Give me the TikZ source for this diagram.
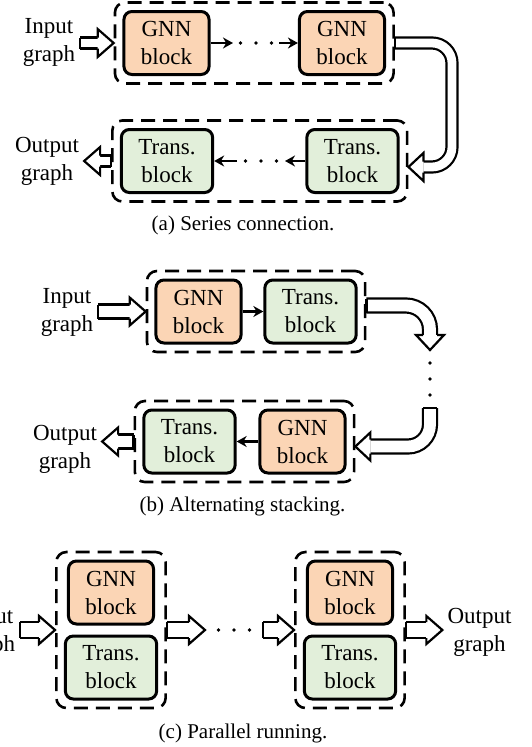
\documentclass[tikz,border=0pt]{standalone}
\usepackage{fontspec}
\setmainfont{Liberation Serif}
\usetikzlibrary{arrows.meta,calc,fit}
\definecolor{gnnorange}{RGB}{251,213,181}
\definecolor{transgreen}{RGB}{226,239,218}

% half width of the open block arrows (set per panel)
\def\shafthalf{6}
% open block arrow: head from back point #1 to tip #2
\newcommand{\hollowhead}[2]{%
  \fill[white] ($(#1)!\shafthalf pt!90:(#2)$) -- ($(#1)!14pt!90:(#2)$) -- (#2)
    -- ($(#1)!14pt!-90:(#2)$) -- ($(#1)!\shafthalf pt!-90:(#2)$) -- cycle;
  \draw[hollowline] ($(#1)!\shafthalf pt!90:(#2)$) -- ($(#1)!14pt!90:(#2)$) -- (#2)
    -- ($(#1)!14pt!-90:(#2)$) -- ($(#1)!\shafthalf pt!-90:(#2)$);}
% closed tail of an open block arrow at #1, heading to #2
\newcommand{\hollowtail}[2]{%
  \draw[hollowline, line cap=square] ($(#1)!\shafthalf pt!90:(#2)$) -- ($(#1)!\shafthalf pt!-90:(#2)$);}
% straight open block arrow from #1 to #2
\newcommand{\hollowarrow}[2]{%
  \coordinate (htip) at (#2);
  \coordinate (htail) at (#1);
  \coordinate (hback) at ($(htip)!16pt!(htail)$);
  \draw[hollowshaft] (htail) -- (hback);
  \hollowtail{htail}{htip}
  \hollowhead{hback}{htip}}

\begin{document}
\begin{tikzpicture}[
  x=1pt, y=-1pt,
  >={Stealth[length=10pt, width=11pt]},
  every node/.style={font=\fontsize{23}{28}\selectfont},
  gnn/.style={rectangle, rounded corners=8pt, draw=black, line width=3pt, fill=gnnorange, align=center, inner xsep=17pt, inner ysep=0pt, minimum height=63pt},
  trans/.style={gnn, fill=transgreen},
  group/.style={rectangle, draw=black, line width=2.6pt, dash pattern=on 14pt off 8pt, rounded corners=10pt, inner sep=7.5pt},
  iotext/.style={align=center, inner sep=5pt},
  caption/.style={font=\fontsize{21}{25}\selectfont, anchor=base},
  ellipsis/.style={inner sep=0pt, outer sep=0pt},
  flow/.style={->, line width=2.5pt},
  hollowshaft/.style={line width=2.2pt, double=white, double distance={(2*\shafthalf-2.2)*1pt}},
  hollowline/.style={line width=2.2pt, line join=miter},
]
\useasboundingbox (0,0) rectangle (532,747);
\clip (0,0) rectangle (532,747);

% ---- (a) series connection ----
\def\shafthalf{5.5}
\node[gnn]   (gnnA1)   at (166.5, 43) {GNN\\block};
\node[gnn]   (gnnA2)   at (342, 43)   {GNN\\block};
\node[trans] (transA1) at (167, 161)  {Trans.\\block};
\node[trans] (transA2) at (352.5, 161){Trans.\\block};
\node[group, fit=(gnnA1)(gnnA2)]     (grpA1) {};
\node[group, fit=(transA1)(transA2)] (grpA2) {};
\node[ellipsis, minimum width=46pt] (dotsA1) at (256, 43)  {};
\node[ellipsis, minimum width=48pt] (dotsA2) at (261, 161) {};
\node[iotext] (inA)  at (49, 42)  {Input\\graph};
\node[iotext] (outA) at (47, 161) {Output\\graph};
\node[caption] (capA) at (243, 230) {(a) Series connection.};

\draw[flow] (gnnA1) -- (dotsA1);
\draw[flow] (dotsA1) -- (gnnA2);
\draw[flow] (transA2) -- (dotsA2);
\draw[flow] (dotsA2) -- (transA1);
\foreach \dx in {-15.5,0,15.5} {
  \fill ([xshift=\dx pt]dotsA1.center) circle (1.9pt);
  \fill ([xshift=\dx pt]dotsA2.center) circle (1.9pt);
}
\hollowarrow{grpA1.west -| inA.east}{grpA1.west}
\hollowarrow{grpA2.west}{grpA2.west -| outA.east}
\coordinate (bendA) at (452, 0);
\coordinate (tipA)  at ([yshift=-6pt]grpA2.east);
\coordinate (backA) at ([xshift=15pt]tipA);
\draw[hollowshaft, rounded corners=20pt] (grpA1.east) -- (grpA1.east -| bendA) -- (tipA -| bendA) -- (backA);
\hollowtail{grpA1.east}{grpA1.east -| bendA}
\hollowhead{backA}{tipA}

% ---- (b) alternating stacking ----
\def\shafthalf{7}
\node[gnn]   (gnnB1)   at (198.5, 311.5) {GNN\\block};
\node[trans] (transB1) at (310.5, 311.5) {Trans.\\block};
\node[trans] (transB2) at (189.5, 441.5) {Trans.\\block};
\node[gnn]   (gnnB2)   at (302.5, 441.5) {GNN\\block};
\node[group, fit=(gnnB1)(transB1)] (grpB1) {};
\node[group, fit=(transB2)(gnnB2)] (grpB2) {};
\node[ellipsis, minimum width=4pt, minimum height=58pt] (dotsB) at (430, 379) {};
\node[iotext] (inB)  at (67, 312) {Input\\graph};
\node[iotext] (outB) at (65, 449) {Output\\graph};
\node[caption] (capB) at (242.5, 511) {(b) Alternating stacking.};

\draw[flow] (gnnB1) -- (transB1);
\draw[flow] (gnnB2) -- (transB2);
\foreach \dy in {-16,0,16}
  \fill ([yshift=\dy pt]dotsB.center) circle (1.9pt);
\hollowarrow{grpB1.west -| inB.east}{grpB1.west}
\hollowarrow{grpB2.west}{grpB2.west -| outB.east}
\coordinate (tailB1) at ([yshift=6pt]grpB1.east);
\coordinate (tipB1)  at (dotsB.north);
\coordinate (backB1) at ([yshift=15pt]tipB1);
\draw[hollowshaft, rounded corners=24pt] (tailB1) -- (tailB1 -| backB1) -- (backB1);
\hollowtail{tailB1}{tailB1 -| backB1}
\hollowhead{backB1}{tipB1}
\coordinate (tipB2)  at ([yshift=-5pt]grpB2.east);
\coordinate (backB2) at ([xshift=15pt]tipB2);
\draw[hollowshaft, rounded corners=22pt] (dotsB.south) -- (dotsB.south |- backB2) -- (backB2);
\hollowtail{dotsB.south}{dotsB.south |- backB2}
\hollowhead{backB2}{tipB2}

% ---- (c) parallel running ----
\def\shafthalf{8}
\node[gnn]   (gnnC1)   at (111, 592.5) {GNN\\block};
\node[trans] (transC1) at (111, 667.5) {Trans.\\block};
\node[gnn]   (gnnC2)   at (350, 592.5) {GNN\\block};
\node[trans] (transC2) at (350, 667.5) {Trans.\\block};
\node[group, fit=(gnnC1)(transC1)] (grpC1) {};
\node[group, fit=(gnnC2)(transC2)] (grpC2) {};
\node[ellipsis, minimum width=58pt] (dotsC) at (234, 630) {};
\node[iotext] (inC)  at (-11, 632)   {Input\\graph};
\node[iotext] (outC) at (479.5, 632) {Output\\graph};
\node[caption] (capC) at (243, 738) {(c) Parallel running.};

\foreach \dx in {-15.5,0,15.5}
  \fill ([xshift=\dx pt]dotsC.center) circle (1.9pt);
\hollowarrow{grpC1.west -| inC.east}{grpC1.west}
\hollowarrow{grpC1.east}{grpC1.east -| dotsC.west}
\hollowarrow{grpC2.west -| dotsC.east}{grpC2.west}
\hollowarrow{grpC2.east}{grpC2.east -| outC.west}

\end{tikzpicture}
\end{document}
